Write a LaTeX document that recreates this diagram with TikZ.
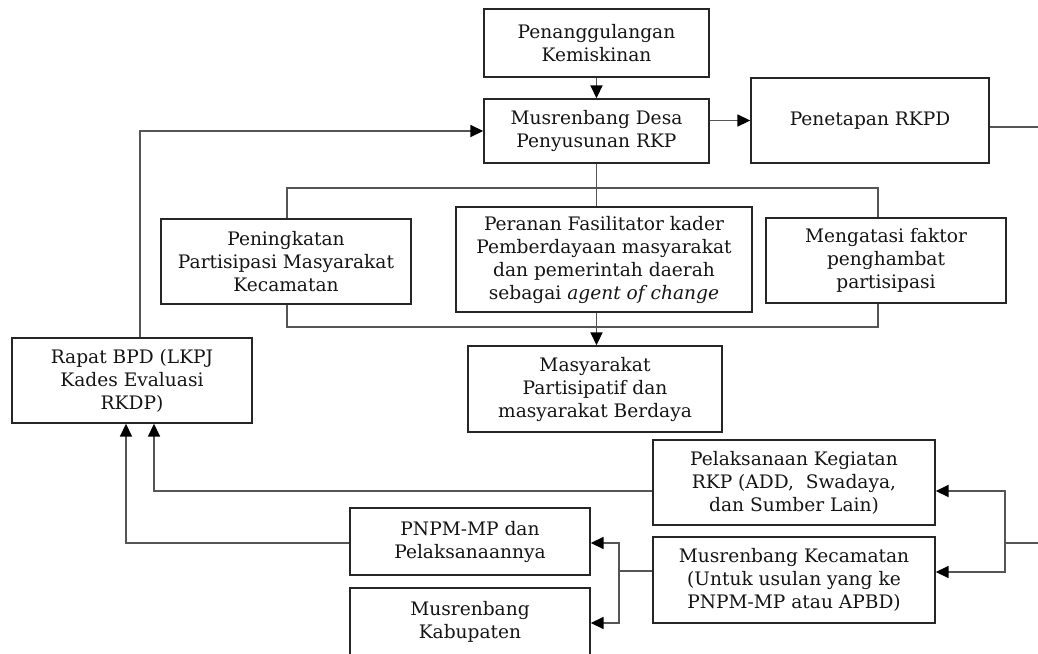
\documentclass[tikz,border=0pt]{standalone}
\usepackage{fontspec}
\setmainfont{DejaVu Serif}
\usetikzlibrary{arrows.meta}
\definecolor{edgec}{HTML}{262626}
\definecolor{linec}{HTML}{555555}
\definecolor{txtc}{HTML}{141414}
\tikzset{
  boxnode/.style={draw=edgec, line width=1.4pt, inner sep=0pt, align=center,
    text=txtc, font=\fontsize{18.6}{23}\selectfont},
  conn/.style={draw=linec, line width=1.7pt},
  arr/.style={conn, -{Triangle[length=13pt,width=12pt,color=black]}},
}
\begin{document}
\begin{tikzpicture}[x=1pt,y=-1pt]
\useasboundingbox (0,0) rectangle (1038,653);
% boxes
\node[boxnode, minimum width=225pt, minimum height=68pt] (pk) at (596.5,43) {Penanggulangan\\Kemiskinan};
\node[boxnode, minimum width=225pt, minimum height=64pt] (md) at (596.5,131) {Musrenbang Desa\\Penyusunan RKP};
\node[boxnode, minimum width=238pt, minimum height=85pt] (pr) at (870,120.5) {Penetapan RKPD};
\node[boxnode, minimum width=250pt, minimum height=85pt] (pen) at (286,261.5) {Peningkatan\\Partisipasi Masyarakat\\Kecamatan};
\node[boxnode, minimum width=296pt, minimum height=105pt] (per) at (604,259.5) {Peranan Fasilitator kader\\Pemberdayaan masyarakat\\dan pemerintah daerah\\sebagai \textit{agent of change}};
\node[boxnode, minimum width=240pt, minimum height=85pt] (meng) at (886,260.5) {Mengatasi faktor\\penghambat\\partisipasi};
\node[boxnode, minimum width=254pt, minimum height=86pt] (mas) at (595,389) {Masyarakat\\Partisipatif dan\\masyarakat Berdaya};
\node[boxnode, minimum width=240pt, minimum height=85pt] (rap) at (132,380.5) {Rapat BPD (LKPJ\\Kades Evaluasi\\RKDP)};
\node[boxnode, minimum width=282pt, minimum height=85pt] (pel) at (794,482.5) {Pelaksanaan Kegiatan\\RKP (ADD,~ Swadaya,\\dan Sumber Lain)};
\node[boxnode, minimum width=282pt, minimum height=86pt] (kec) at (794,580) {Musrenbang Kecamatan\\(Untuk usulan yang ke\\PNPM-MP atau APBD)};
\node[boxnode, minimum width=240pt, minimum height=67pt] (pnpm) at (470,541.5) {PNPM-MP dan\\Pelaksanaannya};
\node[boxnode, minimum width=240pt, minimum height=67pt] (kab) at (470,621.5) {Musrenbang\\Kabupaten};
% helper coordinates
\coordinate (busTL) at (287,188);
\coordinate (busTR) at (878,188);
\coordinate (busBL) at (287,327);
\coordinate (busBR) at (878,327);
\coordinate (exitR) at (1040,127);
\coordinate (inR) at (1040,543);
\coordinate (brR) at (1005,543);
\coordinate (brL) at (619,571);
\coordinate (fbx) at (140,130);
\coordinate (pelrow) at (154,491);
\coordinate (pnx) at (126,543);
% top connections
\draw[arr] (pk.south) -- (md.north);
\draw[arr] (md.east |- pr.west) -- (pr.west);
\draw[conn] (pr.east |- exitR) -- (exitR);
\draw[conn] (md.south) -- (md.south |- per.north);
\draw[conn] (pen.north -| busTL) -- (busTL) -- (busTR) -- (meng.north -| busTR);
\draw[conn] (pen.south -| busBL) -- (busBL) -- (busBR) -- (meng.south -| busBR);
\draw[arr] (per.south -| md.south) -- (mas.north -| md.south);
% feedback to Musrenbang Desa
\draw[arr] (rap.north -| fbx) |- (md.west);
% into Rapat BPD
\draw[arr] (pel.west |- pelrow) -| (rap.south -| pelrow);
\draw[arr] (pnpm.west |- pnx) -| (rap.south -| pnx);
% left bracket
\draw[conn] (kec.west |- brL) -- (brL);
\draw[arr] (brL) |- (pnpm.east |- pnx);
\draw[arr] (brL) |- ([yshift=-1.5pt]kab.east);
% right bracket
\draw[conn] (inR) -- (brR);
\draw[arr] (brR) |- ([yshift=-8.5pt]pel.east);
\draw[arr] (brR) |- ([yshift=8pt]kec.east);
\end{tikzpicture}
\end{document}
